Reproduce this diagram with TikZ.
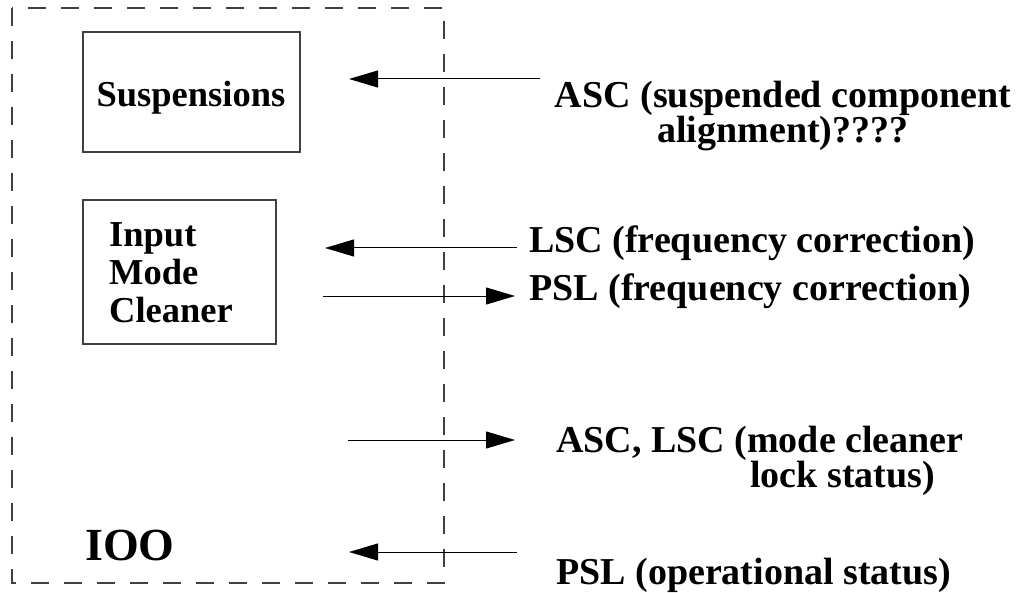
\documentclass[tikz,border=0pt]{standalone}
\usepackage{fontspec}
\setmainfont{Liberation Serif}
\usetikzlibrary{arrows.meta}
\tikzset{
  box/.style={draw=black!75, line width=1.2pt},
  frame/.style={draw=black!75, line width=1.2pt, dash pattern=on 18pt off 15pt},
  sig/.style={draw=black, line width=1pt, -{Triangle[length=29pt,width=17pt]}},
  lbl/.style={inner sep=0pt, font=\bfseries\fontsize{36.5}{35}\selectfont},
  rlbl/.style={inner sep=0pt, font=\bfseries\fontsize{38}{34}\selectfont},
}
\begin{document}
\begin{tikzpicture}[x=1pt,y=-1pt]
\useasboundingbox (0,0) rectangle (1016,593);
\draw[frame] (12,8) rectangle (444,583);
\draw[box] (83,32) rectangle (300,152);
\draw[box] (83,200) rectangle (276,344);
\node[lbl, anchor=base] (susp) at (191,107) {Suspensions};
\node[lbl, anchor=base west, align=left, font=\bfseries\fontsize{36.5}{38}\selectfont] (imc) at (109,322) {Input\\Mode\\Cleaner};
\node[lbl, anchor=base west, font=\bfseries\fontsize{46}{48}\selectfont] (ioo) at (85,560) {IOO};
\node[rlbl, anchor=base, align=center] (asc) at (783,143) {ASC (suspended component\\alignment)????};
\node[rlbl, anchor=base west] (lsc) at (529,253) {LSC (frequency correction)};
\node[rlbl, anchor=base west] (pslf) at (529,301) {PSL (frequency correction)};
\node[rlbl, anchor=base west, align=left, font=\bfseries\fontsize{38}{35}\selectfont] (mcl) at (556,487) {ASC, LSC (mode cleaner\\\hspace*{194pt}lock status)};
\node[rlbl, anchor=base west] (pslo) at (556,584) {PSL (operational status)};
\coordinate (a1s) at (540,79); \coordinate (a1e) at (349,79);
\coordinate (a2s) at (517,248); \coordinate (a2e) at (325,248);
\coordinate (a3s) at (323,296); \coordinate (a3e) at (515,296);
\coordinate (a4s) at (348,440); \coordinate (a4e) at (515,440);
\coordinate (a5s) at (517,552); \coordinate (a5e) at (349,552);
\draw[sig] (a1s) -- (a1e);
\draw[sig] (a2s) -- (a2e);
\draw[sig] (a3s) -- (a3e);
\draw[sig] (a4s) -- (a4e);
\draw[sig] (a5s) -- (a5e);
\end{tikzpicture}
\end{document}
